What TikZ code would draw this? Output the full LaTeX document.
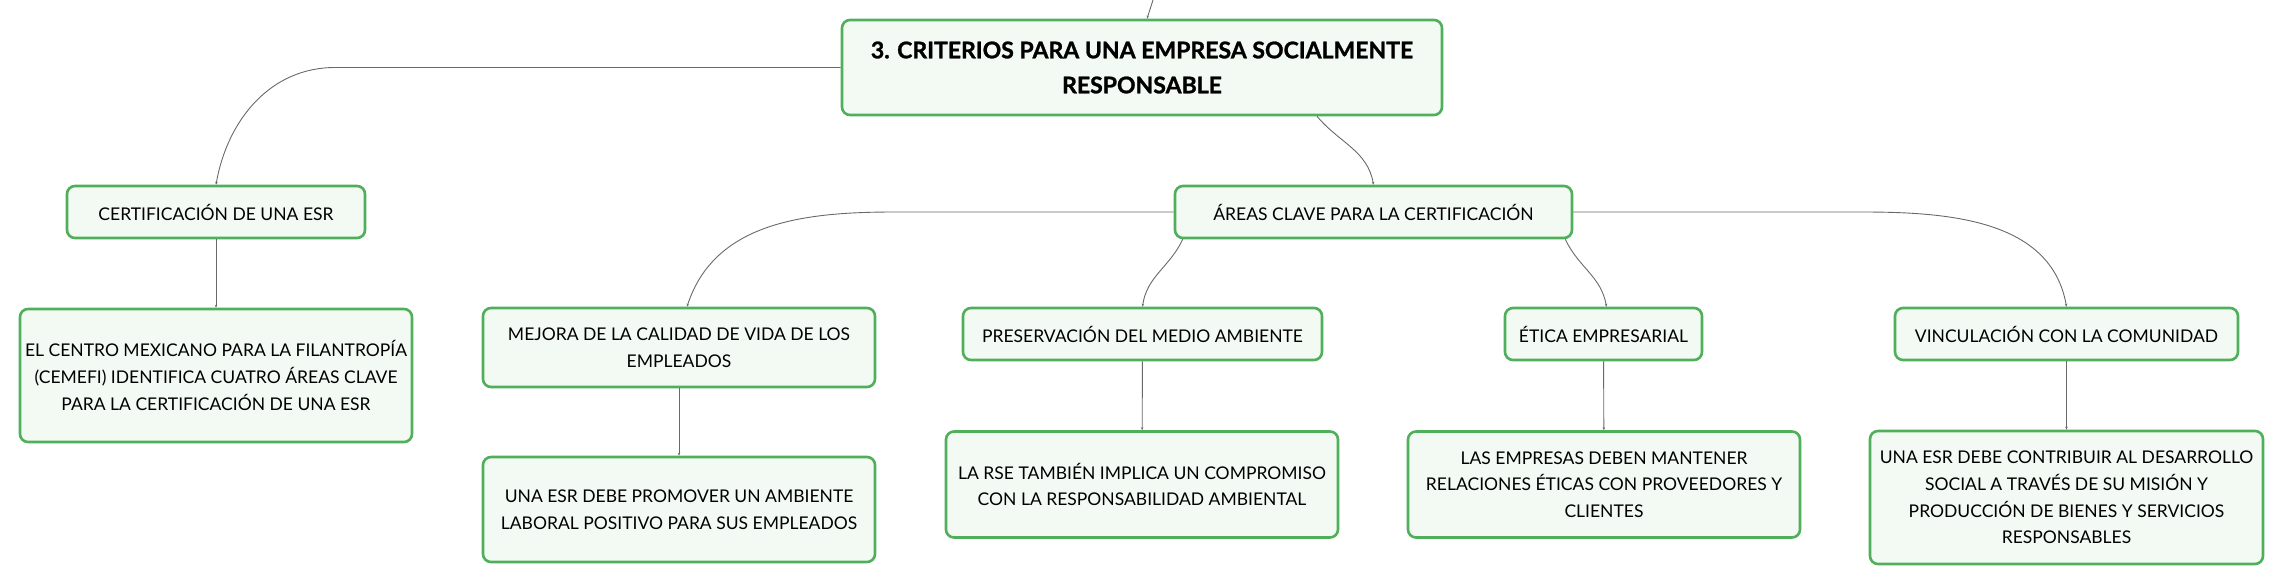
\documentclass[tikz,border=0pt]{standalone}
\usepackage{fontspec}
\setmainfont{Lato}
\usepackage{tikz}
\usetikzlibrary{arrows.meta}

\definecolor{boxgreen}{RGB}{80,175,90}
\definecolor{boxfill}{RGB}{243,250,244}
\definecolor{linkgray}{RGB}{105,105,105}

\begin{document}
\begin{tikzpicture}[x=1pt,y=-1pt,
  topic/.style={draw=boxgreen,fill=boxfill,line width=2.6pt,rounded corners=8pt,
    align=center,inner sep=0pt,font=\fontsize{17.5}{26.7}\selectfont},
  link/.style={draw=linkgray,line width=0.9pt,-{Stealth[length=3pt,width=2.5pt]}}]
\useasboundingbox (0,0) rectangle (2284,586);

\node[topic,minimum width=600,minimum height=95,
  font=\fontsize{23}{35}\selectfont\bfseries\addfontfeatures{FakeBold=1.2}] (root) at (1142,67.5)
  {3. CRITERIOS PARA UNA EMPRESA SOCIALMENTE\\RESPONSABLE};
\coordinate (up) at (1153,0);
\draw[link] (up) -- ([xshift=5pt]root.north);

\node[topic,minimum width=298,minimum height=52] (cert) at (216,212) {CERTIFICACIÓN DE UNA ESR};
\node[topic,minimum width=392,minimum height=133] (centro) at (216,375.5)
  {EL CENTRO MEXICANO PARA LA FILANTROPÍA\\(CEMEFI) IDENTIFICA CUATRO ÁREAS CLAVE\\PARA LA CERTIFICACIÓN DE UNA ESR};
\node[topic,minimum width=397,minimum height=52] (areas) at (1373.5,212) {ÁREAS CLAVE PARA LA CERTIFICACIÓN};

\node[topic,minimum width=392,minimum height=79] (mejora) at (679,347.5)
  {MEJORA DE LA CALIDAD DE VIDA DE LOS\\EMPLEADOS};
\node[topic,minimum width=392,minimum height=105] (promover) at (679,509.5)
  {UNA ESR DEBE PROMOVER UN AMBIENTE\\LABORAL POSITIVO PARA SUS EMPLEADOS};
\node[topic,minimum width=359,minimum height=52] (preserv) at (1142.5,334) {PRESERVACIÓN DEL MEDIO AMBIENTE};
\node[topic,minimum width=392,minimum height=106] (rse) at (1142,484.5)
  {LA RSE TAMBIÉN IMPLICA UN COMPROMISO\\CON LA RESPONSABILIDAD AMBIENTAL};
\node[topic,minimum width=197,minimum height=52] (etica) at (1603.5,334) {ÉTICA EMPRESARIAL};
\node[topic,minimum width=392,minimum height=106] (empresas) at (1604,484.5)
  {LAS EMPRESAS DEBEN MANTENER\\RELACIONES ÉTICAS CON PROVEEDORES Y\\CLIENTES};
\node[topic,minimum width=343,minimum height=52] (vinc) at (2066.5,334) {VINCULACIÓN CON LA COMUNIDAD};
\node[topic,minimum width=393,minimum height=133] (contrib) at (2066.5,497.5)
  {UNA ESR DEBE CONTRIBUIR AL DESARROLLO\\SOCIAL A TRAVÉS DE SU MISIÓN Y\\PRODUCCIÓN DE BIENES Y SERVICIOS\\RESPONSABLES};

% links from the root
\draw[link] (root.west) -- (335,67.5) to[out=180,in=80] (cert.north);
\draw[link] ([xshift=175pt]root.south) to[out=-50,in=100] (areas.north);

% links from the key areas
\draw[link] (areas.west) -- (895,212) to[out=180,in=72] ([xshift=8pt]mejora.north);
\draw[link] ([xshift=9pt]areas.south west) to[out=-115,in=82] (preserv.north);
\draw[link] ([xshift=-8pt]areas.south east) to[out=-65,in=100] ([xshift=3pt]etica.north);
\draw[link] (areas.east) -- (1862,212) to[out=0,in=100] (vinc.north);

% straight links
\draw[link] (cert) -- (centro);
\draw[link] (mejora) -- (promover);
\draw[link] (preserv) -- (rse);
\draw[link] (etica) -- (empresas);
\draw[link] (vinc) -- (contrib);
\end{tikzpicture}
\end{document}
